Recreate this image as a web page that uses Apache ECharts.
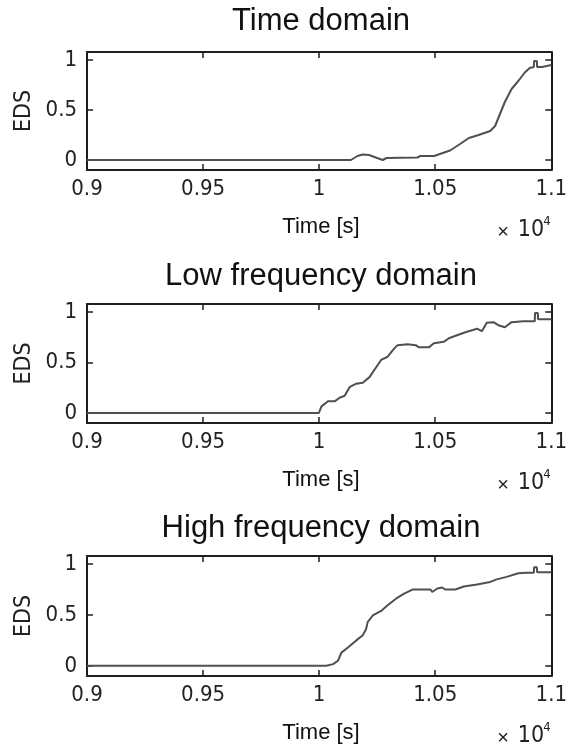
<!DOCTYPE html>
<html>
<head>
<meta charset="utf-8">
<script src="https://cdn.jsdelivr.net/npm/echarts@6/dist/echarts.min.js"></script>
<style>html,body{margin:0;padding:0;background:#fff}#c{width:570px;height:747px}</style>
</head>
<body>
<div id="c"></div>
<script>
// ---- data (x in units of 10^4 s) ----
var panelTitles = ["Time domain", "Low frequency domain", "High frequency domain"];
var xTicks = [0.9, 0.95, 1, 1.05, 1.1];
var yTicks = [0, 0.5, 1];
var yLabelName = "EDS";
var xLabelName = "Time [s]";

var timeX = [0.9, 1.0137, 1.0165, 1.0188, 1.0215, 1.0250, 1.0274, 1.029, 1.0423, 1.0436, 1.0496, 1.052, 1.0564, 1.0607, 1.0645, 1.0687, 1.0737, 1.0758, 1.0779, 1.08, 1.0829, 1.0858, 1.0886, 1.0907, 1.0925, 1.0926, 1.0938, 1.0939, 1.0960, 1.0961, 1.1];
var timeY = [0, 0, 0.04, 0.055, 0.05, 0.02, 0, 0.02, 0.025, 0.04, 0.04, 0.06, 0.095, 0.16, 0.22, 0.25, 0.29, 0.34, 0.46, 0.58, 0.71, 0.79, 0.875, 0.92, 0.93, 0.99, 0.99, 0.93, 0.93, 0.95, 0.95];

var lowX = [0.9, 0.9999, 1.001, 1.0038, 1.0067, 1.0088, 1.011, 1.0131, 1.016, 1.0188, 1.0217, 1.0245, 1.0267, 1.0295, 1.0324, 1.0338, 1.0381, 1.0416, 1.043, 1.0473, 1.0494, 1.0537, 1.0559, 1.0594, 1.063, 1.068, 1.0701, 1.0722, 1.0751, 1.0772, 1.08, 1.0829, 1.0879, 1.0929, 1.093, 1.0942, 1.0943, 1.1];
var lowY = [0, 0, 0.065, 0.115, 0.115, 0.15, 0.17, 0.255, 0.29, 0.30, 0.355, 0.45, 0.525, 0.557, 0.64, 0.672, 0.68, 0.672, 0.65, 0.65, 0.69, 0.705, 0.74, 0.77, 0.80, 0.835, 0.81, 0.895, 0.90, 0.87, 0.85, 0.90, 0.91, 0.91, 0.99, 0.99, 0.93, 0.93];

var highX = [0.9, 1.0031, 1.006, 1.0081, 1.0096, 1.0124, 1.016, 1.0188, 1.0202, 1.0209, 1.0231, 1.0267, 1.0295, 1.0331, 1.0366, 1.0402, 1.048, 1.0487, 1.0509, 1.053, 1.0544, 1.0587, 1.0623, 1.068, 1.0737, 1.0765, 1.0808, 1.0858, 1.0893, 1.0925, 1.0926, 1.0938, 1.0939, 1.1];
var highY = [0, 0, 0.017, 0.05, 0.13, 0.18, 0.25, 0.30, 0.36, 0.43, 0.495, 0.54, 0.595, 0.66, 0.71, 0.75, 0.75, 0.726, 0.76, 0.77, 0.75, 0.75, 0.78, 0.80, 0.825, 0.85, 0.875, 0.91, 0.915, 0.915, 0.97, 0.97, 0.92, 0.92];

var seriesX = [timeX, lowX, highX];
var seriesY = [timeY, lowY, highY];

// ---- layout ----
var plotTop = [52, 304, 556];
var plotH = [118, 119, 120];
var titleY = [21, 276, 528];
var plotLeft = 87, plotRight = 15;
var frameColor = '#1e1e1e';
var lineColor = '#505050';
var narrow = '"DejaVu Sans Condensed", "Liberation Sans Narrow", sans-serif';
var regular = '"Liberation Sans", Arial, sans-serif';

var grids = [], xAxes = [], yAxes = [], series = [], graphics = [];
for (var p = 0; p < 3; p++) {
  grids.push({left: plotLeft, right: plotRight, top: plotTop[p], height: plotH[p], containLabel: false});
  var common = {min: 0.9, max: 1.1, gridIndex: p, type: 'value'};
  xAxes.push(Object.assign({}, common, {
    position: 'bottom',
    axisLine: {show: true, onZero: false, lineStyle: {color: frameColor, width: 2}},
    axisTick: {show: true, inside: true, length: 6, customValues: xTicks, lineStyle: {color: frameColor, width: 1.5}},
    axisLabel: {show: true, customValues: xTicks, margin: 8, fontFamily: narrow, fontSize: 22, color: '#222',
      formatter: function (v) { return String(Math.round(v * 100) / 100); }},
    splitLine: {show: false}
  }));
  xAxes.push(Object.assign({}, common, {
    position: 'top',
    axisLine: {show: true, onZero: false, lineStyle: {color: frameColor, width: 2}},
    axisTick: {show: true, inside: true, length: 6, customValues: xTicks, lineStyle: {color: frameColor, width: 1.5}},
    axisLabel: {show: false},
    splitLine: {show: false}
  }));
  var ycommon = {min: -0.1, max: 1.08, gridIndex: p, type: 'value'};
  yAxes.push(Object.assign({}, ycommon, {
    position: 'left',
    axisLine: {show: true, onZero: false, lineStyle: {color: frameColor, width: 2}},
    axisTick: {show: true, inside: true, length: 6, customValues: yTicks, lineStyle: {color: frameColor, width: 1.5}},
    axisLabel: {show: true, customValues: yTicks, margin: 10, fontFamily: narrow, fontSize: 22, color: '#222',
      formatter: function (v) { return String(Math.round(v * 100) / 100); }},
    splitLine: {show: false}
  }));
  yAxes.push(Object.assign({}, ycommon, {
    position: 'right',
    axisLine: {show: true, onZero: false, lineStyle: {color: frameColor, width: 2}},
    axisTick: {show: true, inside: true, length: 6, customValues: yTicks, lineStyle: {color: frameColor, width: 1.5}},
    axisLabel: {show: false},
    splitLine: {show: false}
  }));
  var xs = seriesX[p], ys = seriesY[p];
  series.push({
    type: 'line', xAxisIndex: 2 * p, yAxisIndex: 2 * p,
    data: xs.map(function (v, i) { return [v, ys[i]]; }),
    showSymbol: false, symbol: 'none', smooth: false,
    lineStyle: {color: lineColor, width: 2}, animation: false, silent: true
  });
  var bottom = plotTop[p] + plotH[p];
  graphics.push({type: 'text', x: 321, y: titleY[p], style: {text: panelTitles[p], textAlign: 'center', textVerticalAlign: 'middle', font: '31px ' + regular, fill: '#111'}});
  graphics.push({type: 'text', x: 24, y: plotTop[p] + plotH[p] / 2, rotation: Math.PI / 2, style: {text: yLabelName, textAlign: 'center', textVerticalAlign: 'middle', font: '23px ' + narrow, fill: '#222'}});
  graphics.push({type: 'text', x: 321, y: bottom + 57, style: {text: xLabelName, textAlign: 'center', textVerticalAlign: 'middle', font: '22px ' + regular, fill: '#111'}});
  graphics.push({type: 'text', x: 503, y: bottom + 62, style: {text: '\u00d7', textAlign: 'center', textVerticalAlign: 'middle', font: '20px ' + regular, fill: '#222'}});
  graphics.push({type: 'text', x: 531, y: bottom + 60, style: {text: '10', textAlign: 'center', textVerticalAlign: 'middle', font: '23px ' + narrow, fill: '#222'}});
  graphics.push({type: 'text', x: 547, y: bottom + 52, style: {text: '4', textAlign: 'center', textVerticalAlign: 'middle', font: '13px ' + narrow, fill: '#222'}});
}

var chart = echarts.init(document.getElementById('c'), null, {renderer: 'canvas'});
chart.setOption({
  animation: false,
  backgroundColor: '#fff',
  grid: grids,
  xAxis: xAxes,
  yAxis: yAxes,
  series: series,
  graphic: graphics
});
</script>
</body>
</html>
